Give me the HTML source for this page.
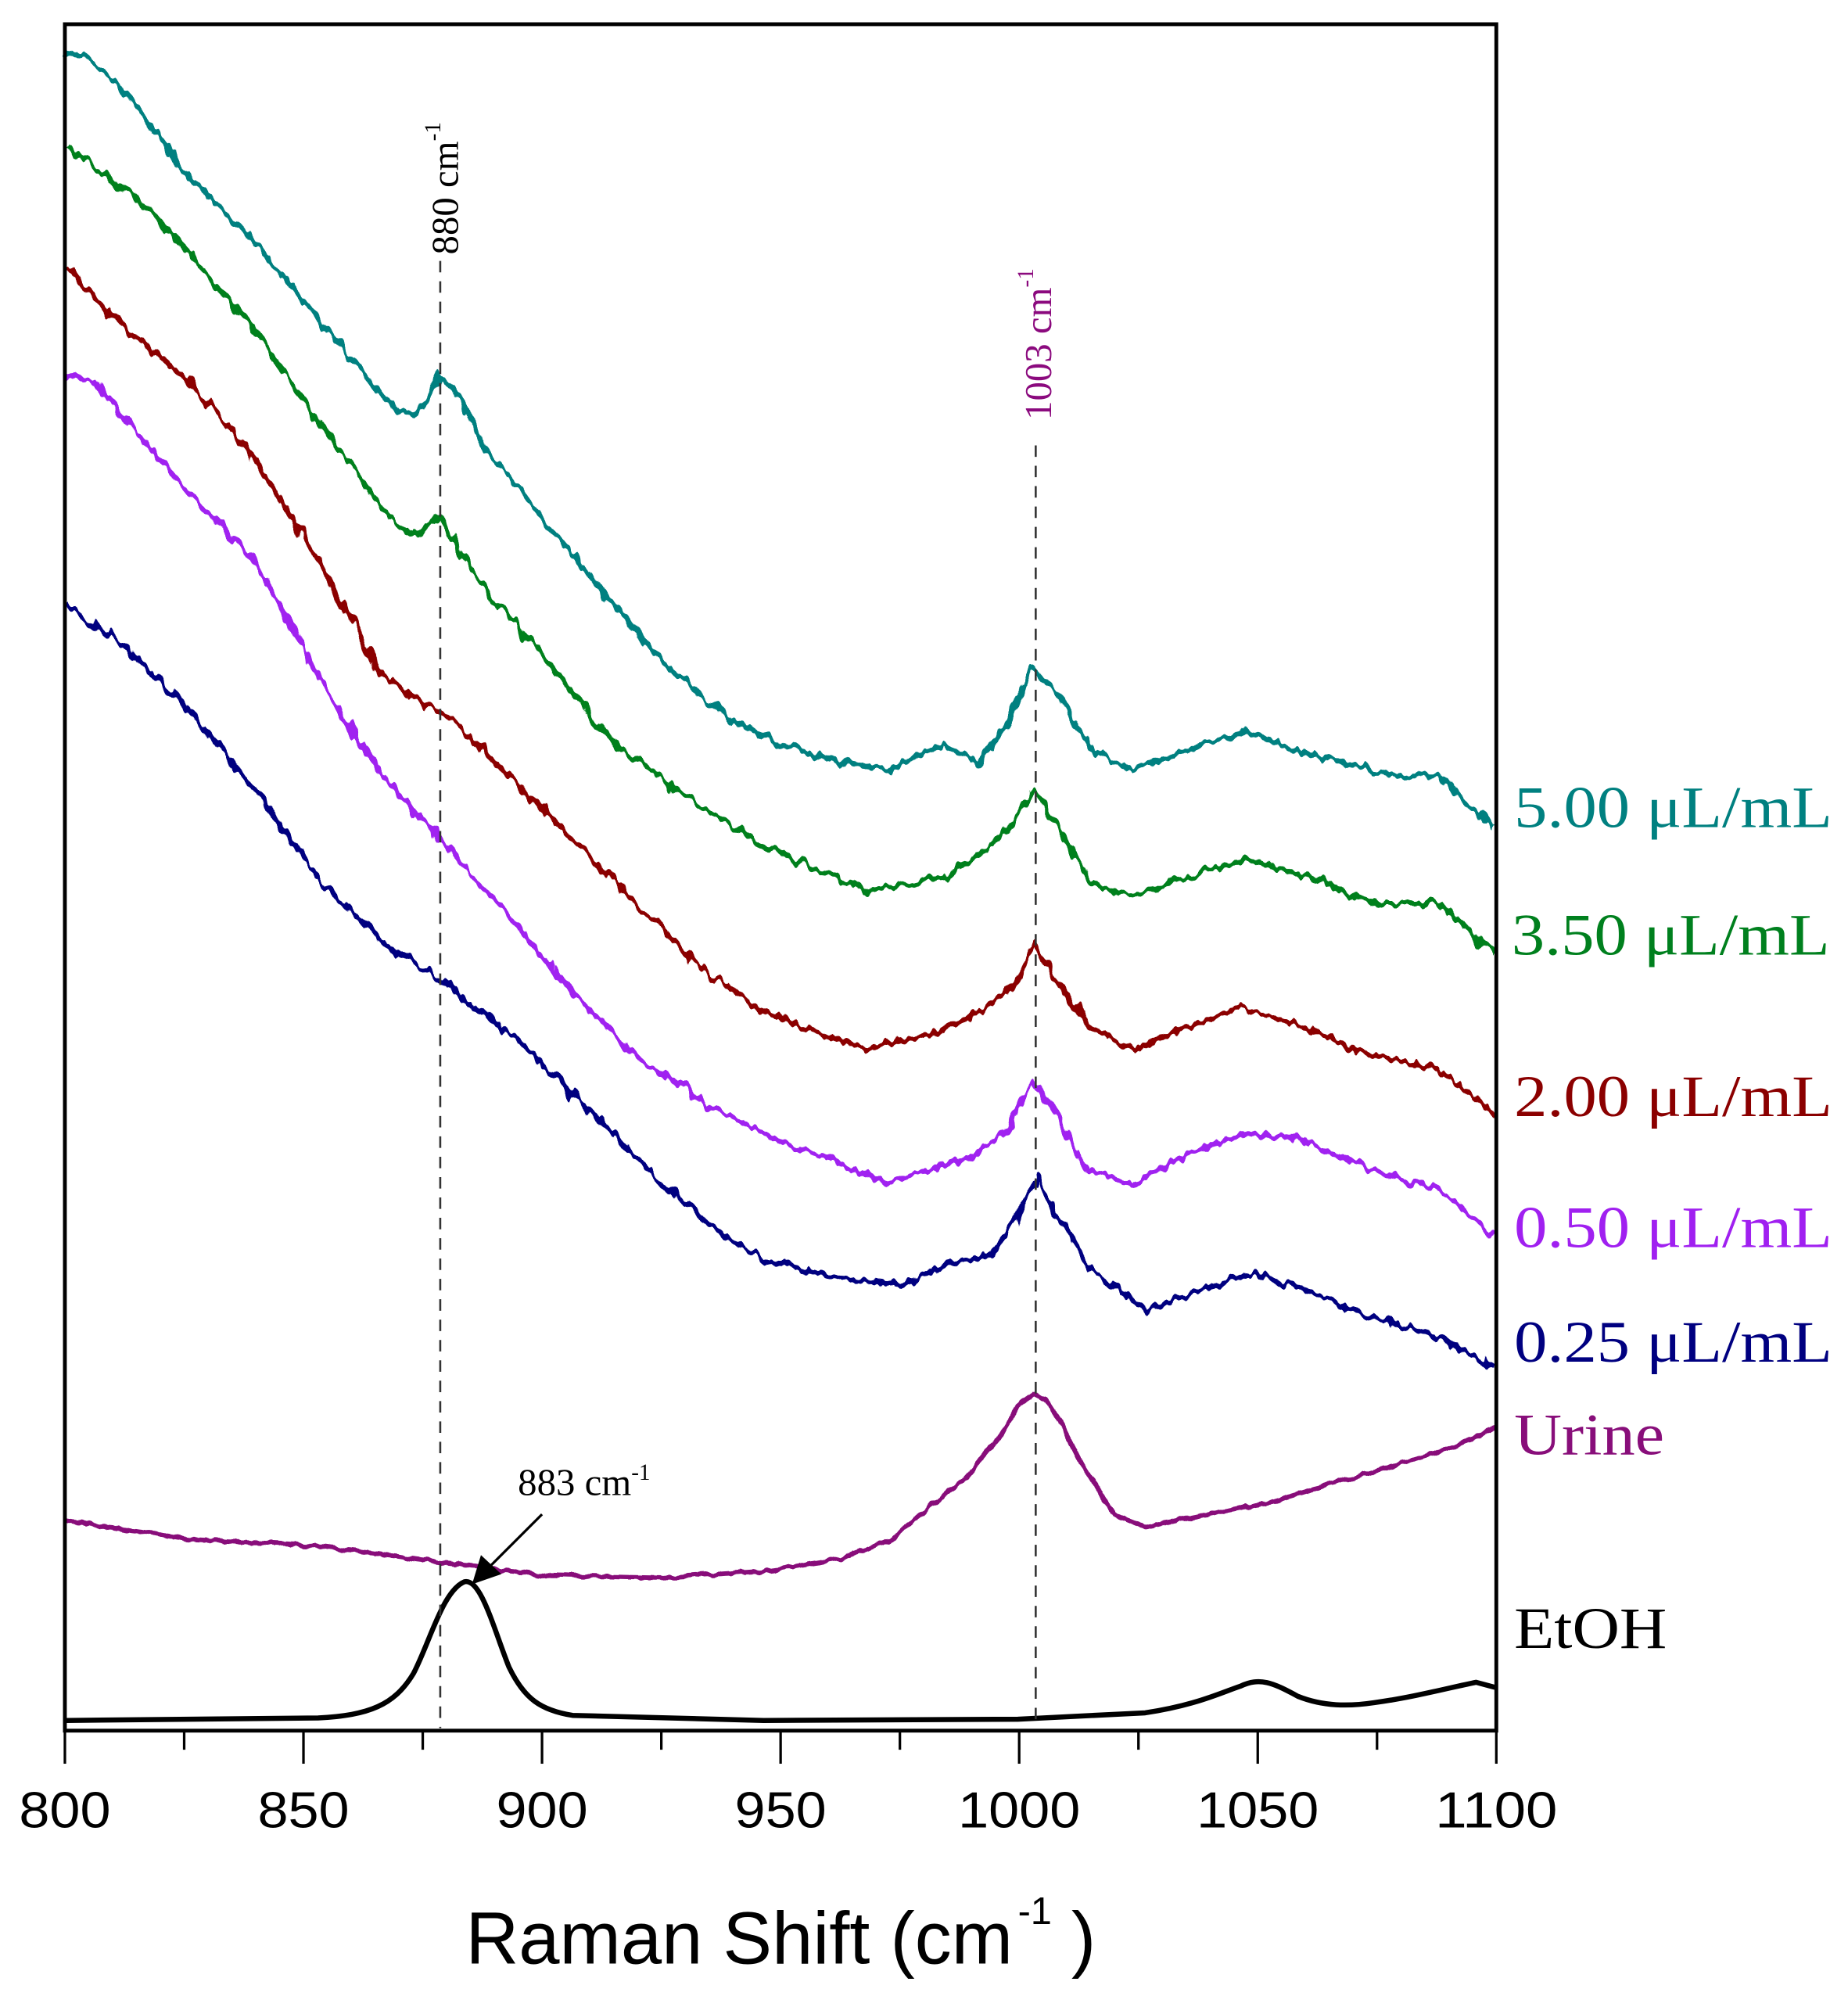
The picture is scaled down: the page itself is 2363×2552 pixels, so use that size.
<!DOCTYPE html>
<html><head><meta charset="utf-8"><style>
html,body{margin:0;padding:0;background:#fff}
svg{display:block}
</style></head><body>
<svg width="2363" height="2552" viewBox="0 0 1452.4 1568.5" xmlns="http://www.w3.org/2000/svg">
<defs>
<filter id="n" x="-5%" y="-5%" width="110%" height="110%">
<feTurbulence type="fractalNoise" baseFrequency="0.14 0.05" numOctaves="2" seed="7" result="t"/>
<feDisplacementMap in="SourceGraphic" in2="t" scale="11" xChannelSelector="R" yChannelSelector="G"/>
</filter>
<filter id="n2" x="-5%" y="-5%" width="110%" height="110%">
<feTurbulence type="fractalNoise" baseFrequency="0.12 0.04" numOctaves="2" seed="3" result="t"/>
<feDisplacementMap in="SourceGraphic" in2="t" scale="5" xChannelSelector="R" yChannelSelector="G"/>
</filter>
</defs>
<rect width="1452.4" height="1568.5" fill="#fff"/>
<g fill="none" stroke-width="4" stroke-linejoin="round" filter="url(#n)">
<polyline stroke="#008080" points="52,40 75,50 100,75 150,140 200,190 250,250 290,300 318,328 332,320 345,295 360,310 380,350 420,400 470,460 520,520 580,570 640,595 700,605 740,585 770,600 790,570 812,525 830,545 860,590 890,605 930,590 980,575 1020,590 1060,600 1100,610 1130,610 1175,650"/>
<polyline stroke="#00801E" points="52,115 100,150 150,200 200,260 250,330 300,400 325,422 345,405 360,430 380,460 430,520 480,580 530,620 600,665 680,700 740,690 780,665 800,640 812,620 830,650 860,695 890,705 930,690 980,675 1030,690 1080,710 1130,710 1175,750"/>
<polyline stroke="#8B0000" points="52,210 100,260 150,300 200,360 250,440 300,530 345,560 360,570 400,610 450,660 500,710 550,760 600,795 680,825 740,810 780,790 800,770 812,740 830,770 860,810 890,825 930,810 975,790 1030,810 1080,830 1130,840 1175,875"/>
<polyline stroke="#A020F0" points="52,295 75,300 100,330 150,390 200,440 250,530 280,580 310,620 345,660 400,720 450,780 500,830 560,870 620,900 700,930 760,910 790,890 812,850 830,875 855,920 890,930 930,910 975,890 1020,895 1080,920 1130,935 1175,970"/>
<polyline stroke="#000080" points="52,475 100,510 150,560 200,620 250,690 300,740 345,770 400,810 460,870 520,930 560,965 600,990 660,1005 710,1010 740,995 780,985 800,955 815,925 830,955 860,1000 900,1030 940,1015 985,1000 1030,1015 1080,1035 1130,1050 1175,1075"/>
</g>
<g fill="none" stroke-width="4" stroke-linejoin="round">
<polyline filter="url(#n2)" stroke="#880E7A" stroke-width="3.6" points="52,1195 150,1210 250,1215 350,1228 430,1238 520,1240 600,1235 660,1225 700,1210 730,1185 760,1160 785,1130 800,1105 812,1095 822,1100 835,1120 850,1150 875,1190 900,1200 950,1190 1000,1180 1050,1165 1100,1150 1140,1138 1175,1122"/>
<path stroke="#000" d="M52,1352 L250,1350 C290,1348 310,1340 325,1315 C338,1290 348,1250 365,1243 C378,1240 388,1280 400,1310 C412,1335 425,1344 450,1348 L600,1352 L800,1351 L900,1346 C940,1340 960,1330 975,1325 C990,1318 1000,1322 1020,1333 C1040,1341 1060,1341 1080,1338 C1110,1334 1140,1326 1160,1322 L1175,1326"/>
</g>
<line x1="346" y1="205" x2="346" y2="1358" stroke="#333" stroke-width="1.6" stroke-dasharray="9,7"/>
<line x1="814" y1="350" x2="814" y2="1358" stroke="#333" stroke-width="1.6" stroke-dasharray="9,7"/>
<rect x="51" y="19" width="1125" height="1341" fill="none" stroke="#000" stroke-width="3"/>
<g stroke="#000" stroke-width="2">
<line x1="51" y1="1360" x2="51" y2="1386"/><line x1="144.75" y1="1360" x2="144.75" y2="1375"/>
<line x1="238.5" y1="1360" x2="238.5" y2="1386"/><line x1="332.25" y1="1360" x2="332.25" y2="1375"/>
<line x1="426" y1="1360" x2="426" y2="1386"/><line x1="519.75" y1="1360" x2="519.75" y2="1375"/>
<line x1="613.5" y1="1360" x2="613.5" y2="1386"/><line x1="707.25" y1="1360" x2="707.25" y2="1375"/>
<line x1="801" y1="1360" x2="801" y2="1386"/><line x1="894.75" y1="1360" x2="894.75" y2="1375"/>
<line x1="988.5" y1="1360" x2="988.5" y2="1386"/><line x1="1082.25" y1="1360" x2="1082.25" y2="1375"/>
<line x1="1176" y1="1360" x2="1176" y2="1386"/>
</g>
<g font-family="Liberation Sans, sans-serif" font-size="40" text-anchor="middle" fill="#000">
<text x="51" y="1436" textLength="72" lengthAdjust="spacingAndGlyphs">800</text>
<text x="238.5" y="1436" textLength="72" lengthAdjust="spacingAndGlyphs">850</text>
<text x="426" y="1436" textLength="72" lengthAdjust="spacingAndGlyphs">900</text>
<text x="613.5" y="1436" textLength="72" lengthAdjust="spacingAndGlyphs">950</text>
<text x="801" y="1436" textLength="96" lengthAdjust="spacingAndGlyphs">1000</text>
<text x="988.5" y="1436" textLength="96" lengthAdjust="spacingAndGlyphs">1050</text>
<text x="1176" y="1436" textLength="96" lengthAdjust="spacingAndGlyphs">1100</text>
</g>
<text x="366" y="1543" font-family="Liberation Sans, sans-serif" font-size="58" fill="#000" textLength="430" lengthAdjust="spacingAndGlyphs">Raman Shift (cm</text>
<text x="800" y="1512" font-family="Liberation Sans, sans-serif" font-size="30" fill="#000">-1</text>
<text x="842" y="1543" font-family="Liberation Sans, sans-serif" font-size="58" fill="#000">)</text>
<text transform="translate(360,200) rotate(-90)" font-family="Liberation Serif, serif" font-size="30" fill="#000">880 cm<tspan dy="-14" font-size="18">-1</tspan></text>
<text transform="translate(826,330) rotate(-90)" font-family="Liberation Serif, serif" font-size="30" fill="#8B0A7E">1003 cm<tspan dy="-14" font-size="18">-1</tspan></text>
<text x="407" y="1175" font-family="Liberation Serif, serif" font-size="30" fill="#000">883 cm<tspan dy="-12" font-size="18">-1</tspan></text>
<line x1="426" y1="1190" x2="384" y2="1232" stroke="#000" stroke-width="2"/>
<polygon points="371,1245 378,1222 394,1237" fill="#000"/>
<g font-family="Liberation Serif, serif" font-size="46">
<text x="1190" y="650" fill="#008080" textLength="250" lengthAdjust="spacingAndGlyphs">5.00 μL/mL</text>
<text x="1188" y="750" fill="#00801E" textLength="250" lengthAdjust="spacingAndGlyphs">3.50 μL/mL</text>
<text x="1190" y="877" fill="#8B0000" textLength="250" lengthAdjust="spacingAndGlyphs">2.00 μL/mL</text>
<text x="1190" y="980" fill="#A020F0" textLength="250" lengthAdjust="spacingAndGlyphs">0.50 μL/mL</text>
<text x="1190" y="1070" fill="#000080" textLength="250" lengthAdjust="spacingAndGlyphs">0.25 μL/mL</text>
<text x="1190" y="1143" fill="#880E7A" textLength="118" lengthAdjust="spacingAndGlyphs">Urine</text>
<text x="1190" y="1295" fill="#000" textLength="120" lengthAdjust="spacingAndGlyphs">EtOH</text>
</g>
</svg>
</body></html>
